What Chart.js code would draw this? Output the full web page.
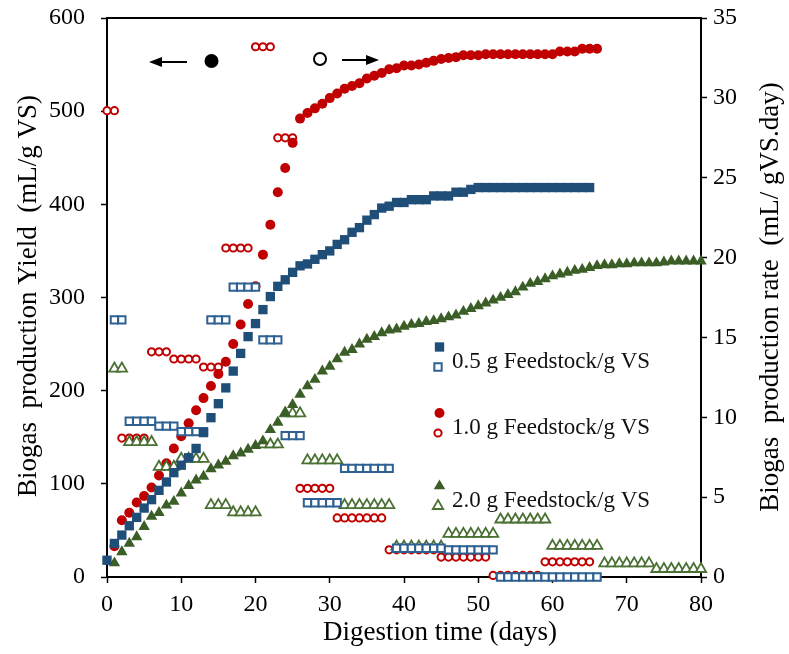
<!DOCTYPE html>
<html>
<head>
<meta charset="utf-8">
<script src="https://cdn.jsdelivr.net/npm/chart.js@4.4.1/dist/chart.umd.min.js"></script>
<style>
  html, body { margin: 0; padding: 0; background: #fff; }
  #wrap { width: 789px; height: 654px; }
</style>
</head>
<body>
<div id="wrap"><canvas id="c"></canvas></div>
<script>
// cumulative biogas yield (mL/g VS), left axis, one value per day
const yield05Start = 0;
const yield05 = [18, 36, 45, 55, 64, 74, 83, 93, 102, 112,
  120, 128, 138, 155, 171, 186, 203, 221, 240, 258,
  272, 287, 301, 312, 319, 327, 334, 336, 341, 346,
  350, 357, 362, 370, 375, 383, 389, 396, 398, 402,
  402, 405, 405, 405, 409, 409, 409, 413, 413, 416,
  418, 418, 418, 418, 418, 418, 418, 418, 418, 418, 418, 418, 418, 418, 418, 418];

const yield10Start = 1;
const yield10 = [33, 61, 69, 80, 87, 96, 109, 122, 138, 151,
  165, 179, 192, 205, 218, 231, 250, 271, 293, 312,
  346, 378, 413, 439, 466, 492, 498, 503, 508, 514,
  519, 524, 527, 530, 535, 538, 541, 545, 546, 549,
  549, 550, 552, 554, 556, 557, 558, 560, 560, 560,
  561, 561, 561, 561, 561, 561, 561, 561, 561, 561,
  564, 564, 564, 567, 567, 567];

const yield20Start = 1;
const yield20 = [15, 27, 36, 43, 54, 65, 69, 77, 81, 90,
  98, 104, 108, 116, 120, 124, 130, 133, 137, 141,
  146, 158, 166, 176, 185, 196, 205, 212, 221, 226,
  234, 241, 244, 250, 255, 258, 262, 265, 266, 269,
  271, 272, 274, 275, 277, 279, 281, 285, 288, 291,
  294, 297, 300, 303, 306, 311, 315, 317, 320, 323,
  325, 327, 329, 330, 332, 334, 335, 335, 336, 336,
  337, 337, 337, 337, 338, 339, 339, 339, 339, 339];

// daily production rate (mL/gVS.day), right axis
const rate05Start = 1;
const rate05 = [16.1, 16.1,
  9.75, 9.75, 9.75, 9.75,
  9.45, 9.45, 9.45,
  9.1, 9.1, 9.1, 9.1,
  16.1, 16.1, 16.1,
  18.15, 18.15, 18.15, 18.15,
  14.85, 14.85, 14.85,
  8.85, 8.85, 8.85,
  4.65, 4.65, 4.65, 4.65, 4.65,
  6.8, 6.8, 6.8, 6.8, 6.8, 6.8, 6.8,
  1.8, 1.8, 1.8, 1.8, 1.8, 1.8, 1.8,
  1.7, 1.7, 1.7, 1.7, 1.7, 1.7, 1.7,
  0, 0, 0, 0, 0, 0, 0, 0, 0, 0, 0, 0, 0, 0];

const rate10Start = 0;
const rate10 = [29.2, 29.2,
  8.7, 8.7, 8.7, 8.7,
  14.1, 14.1, 14.1,
  13.65, 13.65, 13.65, 13.65,
  13.15, 13.15, 13.15,
  20.6, 20.6, 20.6, 20.6,
  33.2, 33.2, 33.2,
  27.5, 27.5, 27.5,
  5.55, 5.55, 5.55, 5.55, 5.55,
  3.7, 3.7, 3.7, 3.7, 3.7, 3.7, 3.7,
  1.7, 1.7, 1.7, 1.7, 1.7, 1.7, 1.7,
  1.25, 1.25, 1.25, 1.25, 1.25, 1.25, 1.25,
  0.1, 0.1, 0.1, 0.1, 0.1, 0.1, 0.1,
  0.95, 0.95, 0.95, 0.95, 0.95, 0.95, 0.95];

const rate20Start = 1;
const rate20 = [13.05, 13.05,
  8.45, 8.45, 8.45, 8.45,
  6.9, 6.9, 6.9,
  7.4, 7.4, 7.4, 7.4,
  4.5, 4.5, 4.5,
  4.05, 4.05, 4.05, 4.05,
  8.3, 8.3, 8.3,
  10.25, 10.25, 10.25,
  7.3, 7.3, 7.3, 7.3, 7.3,
  4.5, 4.5, 4.5, 4.5, 4.5, 4.5, 4.5,
  1.9, 1.9, 1.9, 1.9, 1.9, 1.9, 1.9,
  2.7, 2.7, 2.7, 2.7, 2.7, 2.7, 2.7,
  3.6, 3.6, 3.6, 3.6, 3.6, 3.6, 3.6,
  1.95, 1.95, 1.95, 1.95, 1.95, 1.95, 1.95,
  0.85, 0.85, 0.85, 0.85, 0.85, 0.85, 0.85,
  0.5, 0.5, 0.5, 0.5, 0.5, 0.5, 0.5];

const legendLabels = ['0.5 g Feedstock/g VS', '1.0 g Feedstock/g VS', '2.0 g Feedstock/g VS'];
const xTitle = 'Digestion time (days)';
const yTitle = 'Biogas  production Yield  (mL/g VS)';
const y2Title = 'Biogas  production rate  (mL/ gVS.day)';

const BLUE = '#1f4e79', BLUE_O = '#2e6092';
const RED = '#c00000';
const GREEN = '#3b5e27', GREEN_O = '#4a7033';
const SERIF = "'Liberation Serif', 'Times New Roman', serif";

const pts = (start, vals) => vals.map((v, i) => ({ x: start + i, y: v }));

// marker styles, shared by datasets and the legend
const mk = {
  b:  { pointStyle: 'rect', radius: 6.6, bg: BLUE, border: BLUE, bw: 0 },
  bo: { pointStyle: 'rect', radius: 5.2, bg: '#fff', border: BLUE_O, bw: 2 },
  r:  { pointStyle: 'circle', radius: 5, bg: RED, border: RED, bw: 0 },
  ro: { pointStyle: 'circle', radius: 3.6, bg: '#fff', border: RED, bw: 2 },
  g:  { pointStyle: 'triangle', radius: 6.6, bg: GREEN, border: GREEN, bw: 0 },
  go: { pointStyle: 'triangle', radius: 6, bg: '#fff', border: GREEN_O, bw: 1.8 }
};

function ds(data, m, axis) {
  return {
    data: data, yAxisID: axis, showLine: false, clip: false,
    pointStyle: m.pointStyle, pointRadius: m.radius, pointHoverRadius: m.radius,
    pointBackgroundColor: m.bg, pointBorderColor: m.border, pointBorderWidth: m.bw
  };
}

function drawMarker(ctx, m, x, y) {
  ctx.save();
  ctx.fillStyle = m.bg;
  ctx.strokeStyle = m.border;
  ctx.lineWidth = m.bw;
  ctx.beginPath();
  if (m.pointStyle === 'rect') {
    const s = Math.SQRT1_2 * m.radius;
    ctx.rect(x - s, y - s, 2 * s, 2 * s);
  } else if (m.pointStyle === 'circle') {
    ctx.arc(x, y, m.radius, 0, Math.PI * 2);
  } else {
    const r = m.radius;
    ctx.moveTo(x, y - r);
    ctx.lineTo(x + r * Math.sin(2 * Math.PI / 3), y - r * Math.cos(2 * Math.PI / 3));
    ctx.lineTo(x + r * Math.sin(4 * Math.PI / 3), y - r * Math.cos(4 * Math.PI / 3));
    ctx.closePath();
  }
  ctx.fill();
  if (m.bw > 0) ctx.stroke();
  ctx.restore();
}

const extras = {
  id: 'extras',
  afterDraw(chart) {
    const ctx = chart.ctx;
    const a = chart.chartArea;
    ctx.save();
    // top frame line
    ctx.strokeStyle = '#000';
    ctx.lineWidth = 2;
    ctx.beginPath();
    ctx.moveTo(a.left - 1, a.top);
    ctx.lineTo(a.right + 1, a.top);
    ctx.stroke();

    // axis titles
    ctx.fillStyle = '#000';
    ctx.font = '27px ' + SERIF;
    ctx.textAlign = 'center';
    ctx.textBaseline = 'middle';
    ctx.fillText(xTitle, 440, 633);
    ctx.save();
    ctx.translate(29, 296);
    ctx.rotate(-Math.PI / 2);
    ctx.fillText(yTitle, 0, 0);
    ctx.restore();
    ctx.save();
    ctx.translate(771, 297);
    ctx.rotate(-Math.PI / 2);
    ctx.fillText(y2Title, 0, 0);
    ctx.restore();

    // legend
    const rows = [[mk.b, mk.bo, 362], [mk.r, mk.ro, 428], [mk.g, mk.go, 501]];
    ctx.font = '23px ' + SERIF;
    ctx.textAlign = 'left';
    rows.forEach((row, i) => {
      drawMarker(ctx, row[0], 439.5, row[2] - 15);
      drawMarker(ctx, row[1], 438, row[2] + 5);
      ctx.fillStyle = '#111';
      ctx.fillText(legendLabels[i], 452, row[2]);
    });

    // arrows showing which axis each marker type uses
    ctx.strokeStyle = '#000';
    ctx.fillStyle = '#000';
    ctx.lineWidth = 2;
    ctx.beginPath();
    ctx.moveTo(160, 62); ctx.lineTo(187, 62); ctx.stroke();
    ctx.beginPath();
    ctx.moveTo(149, 62); ctx.lineTo(162, 57); ctx.lineTo(162, 67); ctx.closePath(); ctx.fill();
    ctx.beginPath();
    ctx.arc(211.5, 61, 7, 0, Math.PI * 2); ctx.fill();
    ctx.beginPath();
    ctx.arc(320, 59, 6, 0, Math.PI * 2);
    ctx.fillStyle = '#fff'; ctx.fill(); ctx.stroke();
    ctx.fillStyle = '#000';
    ctx.beginPath();
    ctx.moveTo(342, 60); ctx.lineTo(368, 60); ctx.stroke();
    ctx.beginPath();
    ctx.moveTo(379, 60); ctx.lineTo(366, 55); ctx.lineTo(366, 65); ctx.closePath(); ctx.fill();
    ctx.restore();
  }
};

const tickFont = { family: SERIF, size: 24 };
const axisGrid = { drawOnChartArea: false, drawTicks: true, tickLength: 6, tickColor: '#000', tickWidth: 1.5 };
const axisBorder = { display: true, color: '#000', width: 2 };

// fixed scale boxes so the plot area lands where the original has it
function fixBox(w, h) {
  return s => {
    if (w) s.width = w;
    if (h) s.height = h;
    s.paddingTop = 0; s.paddingBottom = 0; s.paddingLeft = 0; s.paddingRight = 0;
  };
}

new Chart(document.getElementById('c'), {
  type: 'scatter',
  data: {
    datasets: [
      ds(pts(yield05Start, yield05), mk.b, 'y'),
      ds(pts(yield20Start, yield20), mk.g, 'y'),
      ds(pts(rate05Start, rate05), mk.bo, 'y2'),
      ds(pts(rate20Start, rate20), mk.go, 'y2'),
      ds(pts(yield10Start, yield10), mk.r, 'y'),
      ds(pts(rate10Start, rate10), mk.ro, 'y2')
    ]
  },
  options: {
    responsive: true,
    maintainAspectRatio: false,
    animation: false,
    layout: { padding: { top: 18, right: 0, bottom: 0, left: 0 } },
    plugins: { legend: { display: false }, tooltip: { enabled: false } },
    scales: {
      x: {
        type: 'linear', min: 0, max: 80,
        ticks: { stepSize: 10, color: '#000', font: tickFont, padding: 7, maxRotation: 0 },
        grid: axisGrid, border: axisBorder,
        afterFit: fixBox(0, 77)
      },
      y: {
        position: 'left', min: 0, max: 600,
        ticks: { stepSize: 100, color: '#000', font: tickFont, padding: 16 },
        grid: axisGrid, border: axisBorder,
        afterFit: fixBox(107, 0)
      },
      y2: {
        position: 'right', min: 0, max: 35,
        ticks: { stepSize: 5, color: '#000', font: tickFont, padding: 6 },
        grid: axisGrid, border: axisBorder,
        afterFit: fixBox(88, 0)
      }
    }
  },
  plugins: [extras]
});
</script>
</body>
</html>
